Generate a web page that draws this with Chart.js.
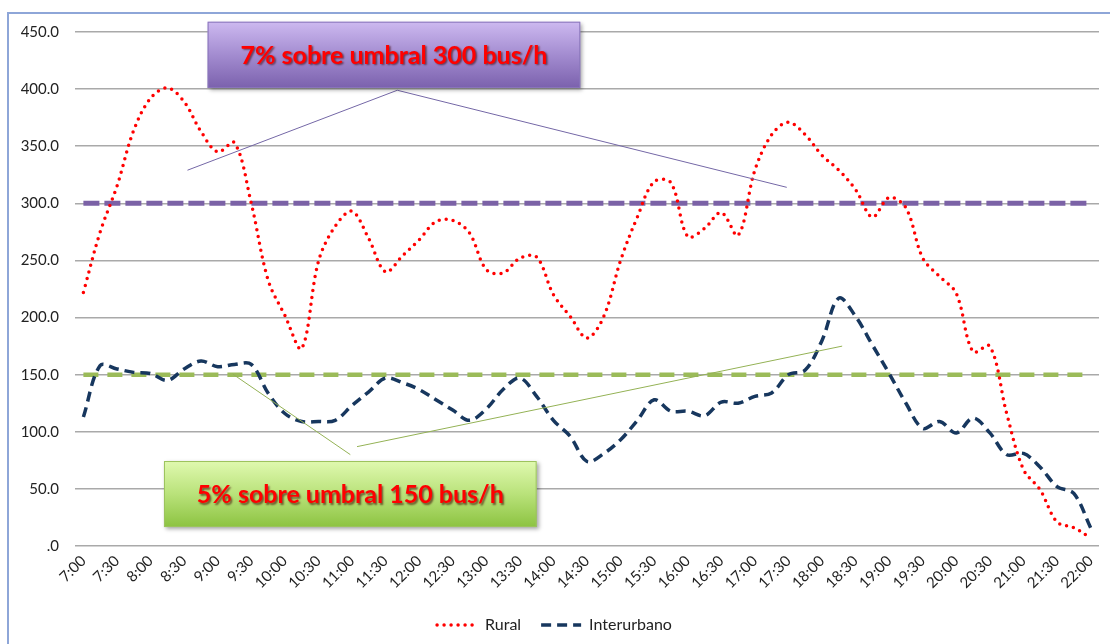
<!DOCTYPE html>
<html>
<head>
<meta charset="utf-8">
<title>Rural / Interurbano</title>
<script src="https://cdn.jsdelivr.net/npm/chart.js@4.4.1/dist/chart.umd.min.js"></script>
<style>
  html, body { margin: 0; padding: 0; background: #fff; }
  #wrap { width: 1110px; height: 644px; }
</style>
</head>
<body>
<div id="wrap"><canvas id="grafico" width="1110" height="644"></canvas></div>
<script>
// horas cada 15 min (solo se rotulan las medias horas)
const horas = [
  "7:00", "7:15", "7:30", "7:45", "8:00", "8:15", "8:30", "8:45", "9:00", "9:15",
  "9:30", "9:45", "10:00", "10:15", "10:30", "10:45", "11:00", "11:15", "11:30", "11:45",
  "12:00", "12:15", "12:30", "12:45", "13:00", "13:15", "13:30", "13:45", "14:00", "14:15",
  "14:30", "14:45", "15:00", "15:15", "15:30", "15:45", "16:00", "16:15", "16:30", "16:45",
  "17:00", "17:15", "17:30", "17:45", "18:00", "18:15", "18:30", "18:45", "19:00", "19:15",
  "19:30", "19:45", "20:00", "20:15", "20:30", "20:45", "21:00", "21:15", "21:30", "21:45",
  "22:00"
];

const rural = [
  222, 275, 315, 364, 392, 401, 389, 363, 345, 353,
  300, 233, 202, 173, 249, 280, 293, 269, 240, 254,
  268, 284, 285, 274, 242, 239, 252, 253, 220, 201,
  182, 201, 250, 288, 319, 318, 271, 278, 292, 272,
  329, 360, 371, 360, 342, 329, 312, 288, 305, 296,
  252, 236, 221, 170, 175, 116, 67, 49, 21, 16,
  7
];

const interurbano = [
  113, 158, 155, 152, 151, 145, 155, 162, 157, 159,
  159, 134, 116, 109, 109, 110, 123, 135, 147, 143,
  137, 128, 119, 110, 120, 137, 147, 131, 110, 96,
  74, 81, 93, 110, 128, 118, 118, 114, 126, 125,
  131, 134, 150, 154, 180, 217, 201, 176, 151, 125,
  103, 109, 99, 112, 99, 80, 81, 69, 52, 46,
  16
];

const umbralRural = 300;
const umbralInterurbano = 150;

const ticksY = [0, 50, 100, 150, 200, 250, 300, 350, 400, 450];

// cajas de texto: posiciones en unidades del gráfico (índice de categoría, valor)
const notas = [
  {
    texto: "7% sobre umbral 300 bus/h",
    caja: [7.4, 459, 29.6, 401],
    lineas: [[18.7, 399, 6.2, 329], [18.7, 399, 41.9, 314]],
    colorLinea: "#7467a6",
    degradado: ["#cdb9f0", "#a38cd0", "#7b61ad"],
    borde: "#8a76bb"
  },
  {
    texto: "5% sobre umbral 150 bus/h",
    caja: [4.8, 74.4, 27, 16.6],
    lineas: [[15.9, 80, 8.9, 150.5], [16.3, 87, 45.2, 175]],
    colorLinea: "#94b255",
    degradado: ["#e0f9b0", "#b9e27a", "#8cc341"],
    borde: "#9cc35e"
  }
];

const marcoPlugin = {
  id: "marco",
  beforeDraw(chart) {
    const ctx = chart.ctx;
    ctx.save();
    ctx.strokeStyle = "#8ea6d8";
    ctx.lineWidth = 2;
    ctx.strokeRect(8, 13, 1130, 700);
    ctx.restore();
  }
};

const notasPlugin = {
  id: "notas",
  afterDraw(chart) {
    const ctx = chart.ctx;
    const sx = chart.scales.x;
    const sy = chart.scales.y;
    notas.forEach(n => {
      ctx.save();
      ctx.strokeStyle = n.colorLinea;
      ctx.lineWidth = 1;
      n.lineas.forEach(l => {
        ctx.beginPath();
        ctx.moveTo(sx.getPixelForValue(l[0]), sy.getPixelForValue(l[1]));
        ctx.lineTo(sx.getPixelForValue(l[2]), sy.getPixelForValue(l[3]));
        ctx.stroke();
      });
      const x0 = sx.getPixelForValue(n.caja[0]);
      const y0 = sy.getPixelForValue(n.caja[1]);
      const x1 = sx.getPixelForValue(n.caja[2]);
      const y1 = sy.getPixelForValue(n.caja[3]);
      const g = ctx.createLinearGradient(0, y0, 0, y1);
      g.addColorStop(0, n.degradado[0]);
      g.addColorStop(0.5, n.degradado[1]);
      g.addColorStop(1, n.degradado[2]);
      ctx.shadowColor = "rgba(0,0,0,0.35)";
      ctx.shadowBlur = 4;
      ctx.shadowOffsetX = 2;
      ctx.shadowOffsetY = 2;
      ctx.fillStyle = g;
      ctx.fillRect(x0, y0, x1 - x0, y1 - y0);
      ctx.shadowColor = "transparent";
      ctx.strokeStyle = n.borde;
      ctx.strokeRect(x0 + 0.5, y0 + 0.5, x1 - x0 - 1, y1 - y0 - 1);
      ctx.font = "bold 25px Lato";
      ctx.textAlign = "center";
      ctx.textBaseline = "middle";
      ctx.shadowColor = "rgba(60,0,0,0.6)";
      ctx.shadowBlur = 2;
      ctx.shadowOffsetX = 1.5;
      ctx.shadowOffsetY = 1.5;
      ctx.fillStyle = "#ff0000";
      ctx.fillText(n.texto, (x0 + x1) / 2, (y0 + y1) / 2 + 1);
      ctx.restore();
    });
  }
};

// leyenda solo para las dos series, con el mismo trazo que la línea
function etiquetasLeyenda(chart) {
  return chart.data.datasets.slice(0, 2).map((ds, i) => ({
    text: ds.label,
    datasetIndex: i,
    hidden: false,
    fillStyle: ds.borderColor,
    strokeStyle: ds.borderColor,
    fontColor: "#222",
    lineWidth: ds.borderWidth,
    lineDash: ds.borderDash,
    lineCap: ds.borderCapStyle,
    pointStyle: "line"
  }));
}

const ctx = document.getElementById("grafico").getContext("2d");
new Chart(ctx, {
  type: "line",
  data: {
    labels: horas,
    datasets: [
      {
        label: "Rural",
        data: rural,
        borderColor: "#ff0000",
        borderWidth: 3.5,
        borderDash: [0, 7],
        borderCapStyle: "round",
        pointRadius: 0,
        tension: 0.35,
        fill: false,
        order: 1
      },
      {
        label: "Interurbano",
        data: interurbano,
        borderColor: "#17375e",
        borderWidth: 3.5,
        borderDash: [10, 6],
        borderCapStyle: "butt",
        pointRadius: 0,
        tension: 0.35,
        fill: false,
        order: 2
      },
      {
        label: "umbral rural",
        data: [{ x: horas[0], y: umbralRural }, { x: horas[horas.length - 1], y: umbralRural }],
        borderColor: "#7b62a6",
        borderWidth: 5,
        borderDash: [16, 5],
        pointRadius: 0,
        fill: false,
        order: 3
      },
      {
        label: "umbral interurbano",
        data: [{ x: horas[0], y: umbralInterurbano }, { x: horas[horas.length - 1], y: umbralInterurbano }],
        borderColor: "#9bbb59",
        borderWidth: 4.5,
        borderDash: [15, 9],
        pointRadius: 0,
        fill: false,
        order: 4
      }
    ]
  },
  options: {
    responsive: false,
    animation: false,
    devicePixelRatio: 1,
    layout: { padding: { left: 10, right: 11, top: 32, bottom: 1 } },
    plugins: {
      legend: {
        position: "bottom",
        labels: {
          generateLabels: etiquetasLeyenda,
          usePointStyle: true,
          pointStyleWidth: 40,
          boxWidth: 40,
          padding: 20,
          color: "#222",
          font: { family: "Lato", size: 16 }
        }
      },
      tooltip: { enabled: false }
    },
    scales: {
      x: {
        offset: true,
        grid: { display: false, drawTicks: false },
        border: { display: false },
        afterFit: scale => { scale.height = 51; },
        ticks: {
          autoSkip: false,
          maxRotation: 45,
          minRotation: 45,
          padding: 6,
          color: "#222",
          font: { family: "Lato", size: 15 },
          callback: function (value, index) {
            return index % 2 === 0 ? horas[index] : "";
          }
        }
      },
      y: {
        min: 0,
        max: 450,
        afterFit: scale => { scale.width = 65; },
        afterBuildTicks: scale => { scale.ticks = ticksY.map(v => ({ value: v })); },
        grid: { color: "#a9a9a9", lineWidth: 1.5, drawTicks: false },
        border: { display: false },
        ticks: {
          padding: 16,
          color: "#222",
          font: { family: "Lato", size: 15 },
          callback: v => (v === 0 ? ".0" : v.toFixed(1))
        }
      }
    }
  },
  plugins: [marcoPlugin, notasPlugin]
});
</script>
</body>
</html>
